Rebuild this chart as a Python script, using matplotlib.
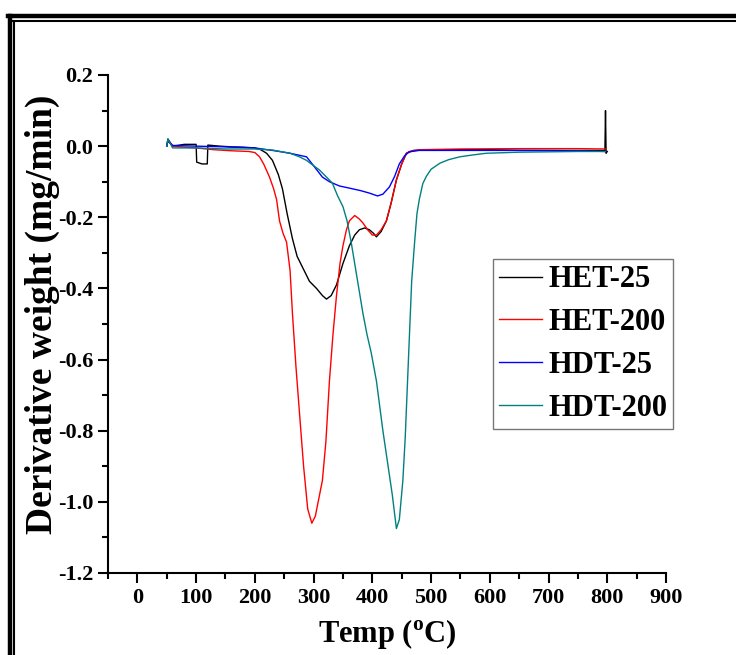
import numpy as np
import matplotlib
matplotlib.use("Agg")
from matplotlib import pyplot as plt
from matplotlib.lines import Line2D

plt.rcParams['font.family'] = ['Liberation Serif', 'DejaVu Serif']
plt.rcParams['font.weight'] = 'bold'
plt.rcParams['mathtext.fontset'] = 'custom'
plt.rcParams['mathtext.rm'] = 'Liberation Serif:bold'
plt.rcParams['mathtext.bf'] = 'Liberation Serif:bold'

# HET-25 (black)
t_het25 = [50, 52, 60, 80, 100, 101, 110, 119, 120, 140, 160, 180, 200, 210, 220, 230,
           240, 247, 255, 264, 272, 281, 293, 305, 315, 322, 330, 339, 350, 361, 370,
           378, 387, 395, 402, 407, 415, 424, 432, 441, 450, 458, 470, 500, 550, 600,
           650, 700, 750, 796, 797, 798, 800]
y_het25 = [0.0, 0.02, 0.0, 0.005, 0.005, -0.045, -0.05, -0.05, 0.003, 0.0, -0.002, -0.003,
           -0.005, -0.01, -0.02, -0.04, -0.08, -0.12, -0.19, -0.26, -0.31, -0.34, -0.38,
           -0.40, -0.42, -0.43, -0.42, -0.39, -0.33, -0.28, -0.25, -0.235, -0.23, -0.235,
           -0.245, -0.255, -0.24, -0.21, -0.16, -0.095, -0.05, -0.02, -0.012, -0.01, -0.01,
           -0.01, -0.012, -0.012, -0.012, -0.012, 0.10, -0.02, -0.015]

# HET-200 (red)
t_het200 = [50, 52, 60, 80, 100, 130, 160, 190, 200, 208, 215, 225, 232, 237, 242, 248,
            254, 260, 264, 270, 276, 283, 290, 297, 303, 309, 315, 321, 327, 333, 339,
            345, 350, 356, 361, 370, 378, 384, 392, 400, 407, 415, 424, 432, 441, 450,
            458, 463, 480, 550, 650, 750, 797]
y_het200 = [0.0, 0.015, 0.0, -0.003, -0.005, -0.01, -0.013, -0.015, -0.018, -0.03, -0.05,
            -0.087, -0.12, -0.15, -0.21, -0.245, -0.27, -0.35, -0.47, -0.62, -0.75, -0.90,
            -1.02, -1.06, -1.04, -0.99, -0.94, -0.83, -0.66, -0.53, -0.42, -0.33, -0.28,
            -0.235, -0.21, -0.195, -0.205, -0.216, -0.235, -0.25, -0.25, -0.235, -0.21,
            -0.16, -0.095, -0.05, -0.02, -0.015, -0.01, -0.008, -0.007, -0.007, -0.008]

# HDT-25 (blue)
t_hdt25 = [50, 52, 60, 100, 150, 200, 230, 260, 288, 300, 315, 327, 344, 361, 380, 395,
           409, 418, 429, 438, 446, 455, 463, 480, 550, 650, 750, 797]
y_hdt25 = [0.0, 0.015, 0.002, 0.0, -0.002, -0.005, -0.012, -0.02, -0.03, -0.055, -0.087,
           -0.10, -0.112, -0.118, -0.125, -0.132, -0.14, -0.135, -0.115, -0.085, -0.05,
           -0.027, -0.016, -0.012, -0.012, -0.012, -0.013, -0.015]

# HDT-200 (teal)
t_hdt200 = [50, 52, 60, 100, 150, 200, 230, 260, 276, 288, 300, 310, 322, 332, 341, 350,
            357, 364, 374, 384, 391, 398, 407, 418, 426, 434, 441, 446, 452, 456, 460,
            464, 467, 472, 476, 480, 486, 492, 500, 515, 530, 549, 570, 594, 650, 750, 797]
y_hdt200 = [0.0, 0.02, -0.005, -0.005, -0.008, -0.008, -0.011, -0.02, -0.03, -0.04, -0.055,
            -0.067, -0.087, -0.104, -0.14, -0.17, -0.21, -0.27, -0.37, -0.47, -0.53, -0.58,
            -0.66, -0.80, -0.89, -0.98, -1.075, -1.05, -0.94, -0.82, -0.66, -0.50, -0.38,
            -0.27, -0.19, -0.15, -0.105, -0.085, -0.065, -0.048, -0.038, -0.03, -0.025,
            -0.02, -0.017, -0.015, -0.015]

labels = ['HET-25', 'HET-200', 'HDT-25', 'HDT-200']
colors = ['black', '#ff0000', '#0000ff', '#008080']
yticks = [-1.2, -1.0, -0.8, -0.6, -0.4, -0.2, 0.0, 0.2]

W, H = 736, 655
fig = plt.figure(figsize=(W / 100, H / 100), dpi=100)
ax = fig.add_axes([108 / W, 1 - 573 / H, 558 / W, 498 / H])

series = [(t_het25, y_het25), (t_het200, y_het200), (t_hdt25, y_hdt25), (t_hdt200, y_hdt200)]
for (t, y), lab, c in zip(series, labels, colors):
    ax.plot(t, y, color=c, lw=1.0, label=lab)

ax.set_xlim(-50, 900)
ax.set_ylim(-1.2, 0.2)
ax.set_xticks(np.arange(0, 901, 100))
ax.set_xticks(np.arange(-50, 901, 50), minor=True)
ax.set_yticks(yticks)
ax.set_yticks(np.round(np.arange(-1.2, 0.21, 0.1), 1), minor=True)
ax.set_yticklabels(['%.1f' % v for v in yticks])
ax.spines['top'].set_visible(False)
ax.spines['right'].set_visible(False)
for s in ['left', 'bottom']:
    ax.spines[s].set_linewidth(1.5)
ax.tick_params(which='major', direction='out', length=7, width=1.5, labelsize=16)
ax.tick_params(which='minor', direction='out', length=4, width=1.5)

ax.set_xlabel(r'Temp ($^{\rm o}$C)', fontsize=22, fontweight='bold', labelpad=7)
ax.set_ylabel('Derivative weight (mg/min)', fontsize=27, fontweight='bold')
ax.yaxis.set_label_coords(-0.086, 0.52)

leg = ax.legend(loc='upper left', bbox_to_anchor=(0.69, 0.63), fontsize=22, frameon=True,
                fancybox=False, edgecolor='#555555', handlelength=1.4, handletextpad=0.2,
                labelspacing=0.45, borderpad=0.2, borderaxespad=0)
leg.get_frame().set_linewidth(1.0)

# double border round the figure
fig.add_artist(Line2D([9.5 / W, 9.5 / W], [0, 1 - 16 / H], color='black', lw=3.2))
fig.add_artist(Line2D([7.5 / W, 1], [1 - 16 / H, 1 - 16 / H], color='black', lw=3.2))
fig.add_artist(Line2D([13.8 / W, 13.8 / W], [0, 1 - 21 / H], color='black', lw=1.5))
fig.add_artist(Line2D([13 / W, 1], [1 - 21 / H, 1 - 21 / H], color='black', lw=1.5))

fig.savefig('out.png', dpi=100)
